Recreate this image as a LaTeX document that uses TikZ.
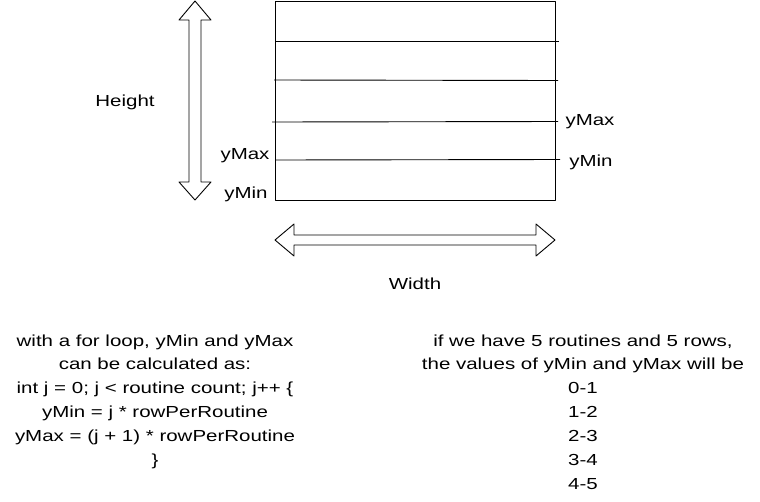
\documentclass[tikz,border=0pt]{standalone}
\usepackage{fontspec}
\setmainfont[FakeStretch=1.28]{Liberation Sans}
\begin{document}
\begin{tikzpicture}[x=1pt,y=-1pt,line width=0.9pt,line join=round,
  lbl/.style={font=\fontsize{16}{20}\selectfont,inner sep=0pt},
  blk/.style={font=\fontsize{16}{23.9}\selectfont,align=center,inner sep=0pt},
  gridline/.style={line width=0.9pt}]
\useasboundingbox (0,0) rectangle (760,501);
% grid
\node[draw,line width=0.9pt,minimum width=280pt,minimum height=199.5pt,anchor=north west,inner sep=0pt] (grid) at (275,0.5) {};
\draw[gridline] (275,41.5) -- (559,41.5);
\draw[gridline] (274,80) -- (558,80.5);
\draw[gridline] (272,122) -- (558,121.5);
\draw[gridline] (275,160) -- (560,159.5);
% vertical double arrow
\draw (195,1) -- (211,20) -- (201,20) -- (201,182) -- (211,182) -- (195,200) -- (179,182) -- (189,182) -- (189,20) -- (179,20) -- cycle;
% horizontal double arrow
\draw (275,240) -- (294,224) -- (294,235) -- (536,235) -- (536,224) -- (555,240) -- (536,256) -- (536,245) -- (294,245) -- (294,256) -- cycle;
% labels
\node[lbl] (height) at (125,102) {Height};
\node[lbl] (width) at (415,284) {Width};
\node[lbl] (lymax) at (245,156) {yMax};
\node[lbl] (lymin) at (246,194) {yMin};
\node[lbl] (rymax) at (590,122) {yMax};
\node[lbl] (rymin) at (591,162) {yMin};
% text blocks
\node[blk,anchor=north] (code) at (155,334) {with a for loop, yMin and yMax\\can be calculated as:\\int j = 0; j {\textless} routine count; j++ \{\\yMin = j * rowPerRoutine\\yMax = (j + 1) * rowPerRoutine\\\}};
\node[blk,anchor=north] (vals) at (583,334) {if we have 5 routines and 5 rows,\\the values of yMin and yMax will be\\0-1\\1-2\\2-3\\3-4\\4-5};
\end{tikzpicture}
\end{document}
